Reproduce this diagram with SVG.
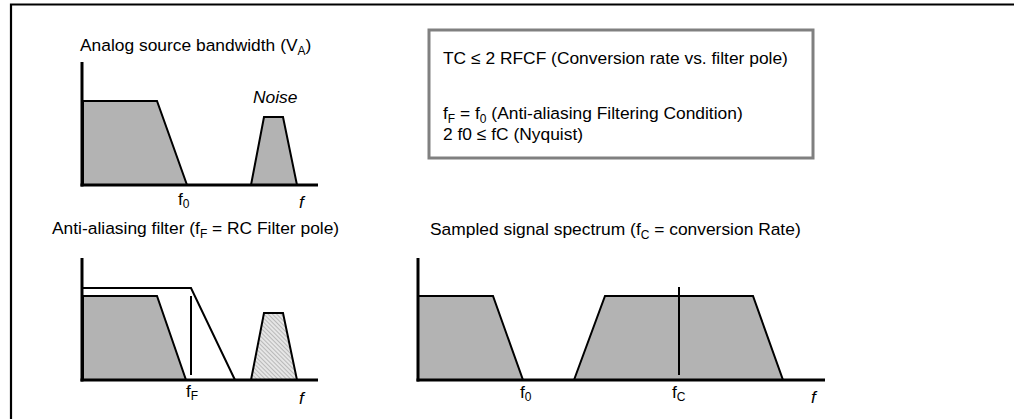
<svg xmlns="http://www.w3.org/2000/svg" width="1014" height="419" viewBox="0 0 1014 419">
<defs>
<style>
text{font-family:"Liberation Sans",Arial,sans-serif;font-size:17.4px;fill:#000}
.it{font-style:italic}
.sub{font-size:12px}
.axis{stroke:#000;stroke-width:3;fill:none}
.sig{fill:#b3b3b3;stroke:#000;stroke-width:2;stroke-linejoin:miter}
.ln{stroke:#000;stroke-width:2;fill:none}
</style>
<pattern id="hatch" width="3" height="3" patternUnits="userSpaceOnUse" patternTransform="rotate(-45)">
<rect width="3" height="3" fill="#e6e6e6"/>
<line x1="0" y1="0" x2="0" y2="3" stroke="#8c8c8c" stroke-width="1"/>
</pattern>
</defs>
<rect width="1014" height="419" fill="#fff"/>
<g id="frame">
<polyline points="11,419 11,4.5 1014,4.5" fill="none" stroke="#000" stroke-width="2.2"/>
</g>
<g id="panel-source">
<text x="80" y="51">Analog source bandwidth (V<tspan class="sub" dy="4">A</tspan><tspan dy="-4">)</tspan></text>
<polygon class="sig" points="83,185 83,101 157,101 187,185"/>
<polygon class="sig" points="251,185 264,117 283,117 297,185"/>
<text class="it" x="253" y="103">Noise</text>
<line class="axis" x1="82" y1="62" x2="82" y2="186.5"/>
<line class="axis" x1="80.5" y1="185" x2="318" y2="185"/>
<text x="178" y="205">f<tspan class="sub" dy="3">0</tspan></text>
<text class="it" x="299" y="208">f</text>
</g>
<g id="conditions">
<rect x="429" y="30" width="384" height="128" fill="#fff" stroke="#808080" stroke-width="3"/>
<text x="443" y="64">TC ≤ 2 RFCF (Conversion rate vs. filter pole)</text>
<text x="443" y="119">f<tspan class="sub" dy="4">F</tspan><tspan dy="-4"> = f</tspan><tspan class="sub" dy="4">0</tspan><tspan dy="-4"> (Anti-aliasing Filtering Condition)</tspan></text>
<text x="443" y="140">2 f0 ≤ fC (Nyquist)</text>
</g>
<g id="panel-filter">
<text x="52" y="234">Anti-aliasing filter (f<tspan class="sub" dy="4">F</tspan><tspan dy="-4"> = RC Filter pole)</tspan></text>
<polyline class="ln" points="83,288 191,288 235,380"/>
<polygon class="sig" points="83,380 83,296 157,296 186,380"/>
<line class="ln" x1="191" y1="296" x2="191" y2="375"/>
<polygon points="251,380 264,313 283,313 297,380" fill="url(#hatch)" stroke="#000" stroke-width="2"/>
<line class="axis" x1="82" y1="258" x2="82" y2="381.5"/>
<line class="axis" x1="80.5" y1="380" x2="318" y2="380"/>
<text x="186" y="397">f<tspan class="sub" dy="3">F</tspan></text>
<text class="it" x="299" y="404">f</text>
</g>
<g id="panel-sampled">
<text x="430" y="235">Sampled signal spectrum (f<tspan class="sub" dy="4">C</tspan><tspan dy="-4"> = conversion Rate)</tspan></text>
<polygon class="sig" points="418,380 418,296 493,296 523,380"/>
<polygon class="sig" points="574,380 605,296 753,296 783,380"/>
<line class="ln" x1="679" y1="287" x2="679" y2="375"/>
<line class="axis" x1="418" y1="258" x2="418" y2="381.5"/>
<line class="axis" x1="416.5" y1="380" x2="825" y2="380"/>
<text x="520" y="398">f<tspan class="sub" dy="3">0</tspan></text>
<text x="672" y="398">f<tspan class="sub" dy="3">C</tspan></text>
<text class="it" x="811" y="403">f</text>
</g>
</svg>
